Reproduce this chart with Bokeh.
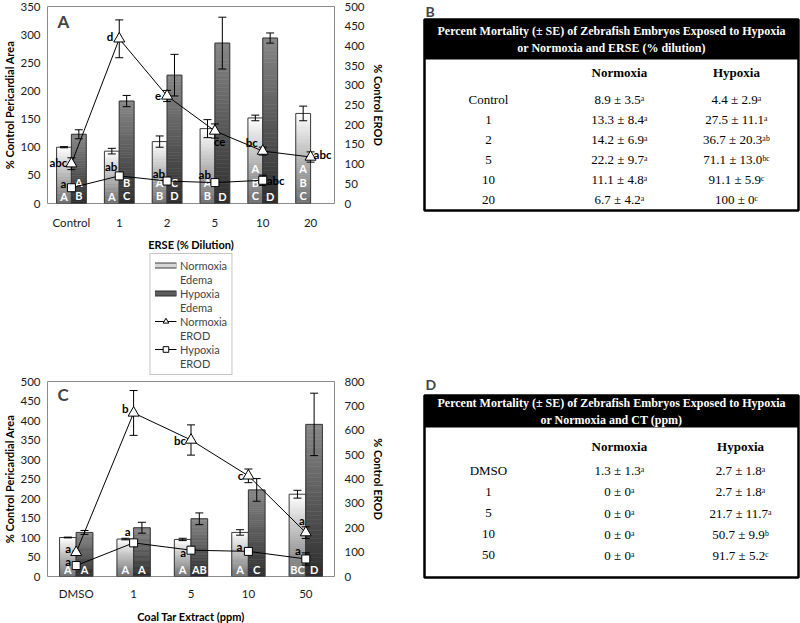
from bokeh.plotting import figure
from bokeh.models import (ColumnDataSource, FactorRange, Range1d, LinearAxis, Legend,
                          LegendItem, BoxAnnotation, Label, Spacer, FixedTicker)
from bokeh.layouts import row, column
from bokeh.transform import dodge
from bokeh.core.properties import value, field
from bokeh.embed import file_html
from bokeh.resources import INLINE

# ---------------- Panel A data (ERSE) ----------------
a_cats = ["Control", "1", "2", "5", "10", "20"]
a_hyp_cats = ["Control", "1", "2", "5", "10"]
a_norm_edema = [100, 93, 110, 133, 152, 160]
a_norm_edema_se = [1, 5, 10, 16, 5, 13]
a_hyp_edema = [123, 182, 228, 285, 294]
a_hyp_edema_se = [8, 10, 37, 46, 9]
a_norm_erod = [101, 418, 273, 184, 133, 118]
a_norm_erod_se = [15, 48, 14, 18, 10, 13]
a_hyp_erod = [40, 70, 57, 53, 59]
a_hyp_erod_se = [3, 4, 3, 3, 13]
a_norm_grp = ["A", "A", "A\nB", "A\nB", "A\nB\nC", "A\nB\nC"]
a_hyp_grp = ["A\nB", "B\nC", "C\nD", "D", "D"]
a_norm_sig = ["abc", "d", "e", "ce", "bc", "abc"]
a_hyp_sig = ["a", "ab", "ab", "ab", "abc"]
a_left_ticks = [0, 50, 100, 150, 200, 250, 300, 350]
a_right_ticks = [0, 50, 100, 150, 200, 250, 300, 350, 400, 450, 500]

# ---------------- Panel C data (Coal tar) ----------------
c_cats = ["DMSO", "1", "5", "10", "50"]
c_norm_edema = [100, 96, 95, 113, 211]
c_norm_edema_se = [1, 2, 3, 7, 10]
c_hyp_edema = [113, 125, 148, 222, 390]
c_hyp_edema_se = [5, 14, 15, 29, 80]
c_norm_erod = [99, 671, 560, 413, 180]
c_norm_erod_se = [5, 92, 62, 28, 24]
c_hyp_erod = [45, 138, 108, 103, 72]
c_hyp_erod_se = [4, 5, 5, 5, 25]
c_norm_grp = ["A", "A", "A", "A", "BC"]
c_hyp_grp = ["A", "A", "AB", "C", "D"]
c_norm_sig = ["a", "b", "bc", "c", "a"]
c_hyp_sig = ["a", "a", "a", "a", "a"]
c_left_ticks = [0, 50, 100, 150, 200, 250, 300, 350, 400, 450, 500]
c_right_ticks = [0, 100, 200, 300, 400, 500, 600, 700, 800]

# ---------------- Legend entries ----------------
legend_labels = ["Normoxia\nEdema", "Hypoxia\nEdema", "Normoxia\nEROD", "Hypoxia\nEROD"]

# ---------------- Table B data ----------------
b_rows = ["Control", "1", "2", "5", "10", "20"]
b_norm_mean = [8.9, 13.3, 14.2, 22.2, 11.1, 6.7]
b_norm_se = [3.5, 8.4, 6.9, 9.7, 4.8, 4.2]
b_norm_sig = ["a", "a", "a", "a", "a", "a"]
b_hyp_mean = [4.4, 27.5, 36.7, 71.1, 91.1, 100]
b_hyp_se = [2.9, 11.1, 20.3, 13.0, 5.9, 0]
b_hyp_sig = ["a", "a", "ab", "bc", "c", "c"]

# ---------------- Table D data ----------------
d_rows = ["DMSO", "1", "5", "10", "50"]
d_norm_mean = [1.3, 0, 0, 0, 0]
d_norm_se = [1.3, 0, 0, 0, 0]
d_norm_sig = ["a", "a", "a", "a", "a"]
d_hyp_mean = [2.7, 2.7, 21.7, 50.7, 91.7]
d_hyp_se = [1.8, 1.8, 11.7, 9.9, 5.2]
d_hyp_sig = ["a", "a", "a", "b", "c"]

# ---------------- styles ----------------
FONT = "Lato"
SERIF = "Liberation Serif"
N_SLICES = 40
NORM_TOP, NORM_BOT = (255, 255, 255), (110, 110, 110)
HYP_TOP, HYP_BOT = (135, 135, 135), (45, 45, 45)
OUTLINE = "#3a3a3a"

# label offsets (align, dx, dy) in screen px
a_norm_sig_style = [("right", -4, -1), ("right", -6, -2), ("right", -6, 0),
                    ("left", -1, 10), ("right", -5, -9), ("left", 3, -3)]
a_hyp_sig_style = [("right", -5, -4), ("right", -2, -9), ("right", -2, -8),
                   ("right", -4, -8), ("left", 4, 0)]
c_norm_sig_style = [("right", -5, -4), ("right", -5, -4), ("right", -5, 0),
                    ("right", -5, 0), ("center", -4, -12)]
c_hyp_sig_style = [("right", -5, -4), ("right", -3, -11), ("right", -5, 2),
                   ("right", -6, -5), ("right", -5, -8)]


def mix(c1, c2, t):
    return "#%02x%02x%02x" % tuple(int(round(a + (b - a) * t)) for a, b in zip(c1, c2))


def add_bars(p, cats, vals, dx, width, top_c, bot_c):
    xs, bots, tops, cols = [], [], [], []
    for c, v in zip(cats, vals):
        for i in range(N_SLICES):
            xs.append(c)
            bots.append(v * i / N_SLICES)
            tops.append(v * (i + 1) / N_SLICES)
            cols.append(mix(bot_c, top_c, (i + 0.5) / N_SLICES))
    src = ColumnDataSource(dict(x=xs, bottom=bots, top=tops, color=cols))
    p.vbar(x=dodge("x", dx, range=p.x_range), bottom="bottom", top="top", width=width,
           fill_color="color", line_color="color", line_width=0.6, source=src)
    osrc = ColumnDataSource(dict(x=cats, top=vals))
    p.vbar(x=dodge("x", dx, range=p.x_range), top="top", width=width, fill_color=None,
           line_color=OUTLINE, line_width=1, source=osrc)


def add_err(p, cats, vals, ses, dx, rng="default"):
    src = ColumnDataSource(dict(x=cats, lo=[v - e for v, e in zip(vals, ses)],
                                hi=[v + e for v, e in zip(vals, ses)]))
    xs = dodge("x", dx, range=p.x_range)
    p.segment(x0=xs, y0="lo", x1=xs, y1="hi", source=src, line_color="black",
              line_width=1, y_range_name=rng)
    for k in ("lo", "hi"):
        p.scatter(x=xs, y=k, source=src, marker="dash", size=8, line_color="black",
                  line_width=1, y_range_name=rng)


def add_letters(p, cats, grp, dx):
    src = ColumnDataSource(dict(x=cats, y=[p.y_range.start] * len(cats), t=grp))
    p.text(x=dodge("x", dx, range=p.x_range), y="y", text="t", source=src,
           text_align="center", text_baseline="bottom", y_offset=-1, text_color="white",
           text_font=value(FONT), text_font_style="bold", text_font_size="11px",
           text_line_height=1.05)


def add_sig(p, cats, vals, sig, style):
    src = ColumnDataSource(dict(x=cats, y=vals, t=sig, al=[s[0] for s in style],
                                dx=[s[1] for s in style], dy=[s[2] for s in style]))
    p.text(x="x", y="y", text="t", source=src, text_align=field("al"), x_offset="dx",
           y_offset="dy", text_baseline="middle", y_range_name="erod", text_color="black",
           text_font=value(FONT), text_font_style="bold", text_font_size="11.5px")


def make_panel(tag, cats, hyp_cats, ne, ne_se, he, he_se, nr, nr_se, hr, hr_se,
               n_grp, h_grp, n_sig, h_sig, n_style, h_style, lt, rt, xlabel,
               frame_h, bar_w, top_border, lab_standoff, title_standoff, tag_y):
    p = figure(x_range=FactorRange(*cats), y_range=Range1d(lt[0], lt[-1]),
               frame_width=287, frame_height=frame_h, output_backend="svg",
               toolbar_location=None, min_border_left=45, min_border_right=78,
               min_border_top=top_border, min_border_bottom=0)
    p.extra_y_ranges = {"erod": Range1d(rt[0], rt[-1])}
    p.add_layout(LinearAxis(y_range_name="erod", axis_label="% Control EROD",
                            ticker=FixedTicker(ticks=rt)), "right")
    p.yaxis[0].ticker = FixedTicker(ticks=lt)
    p.yaxis[0].axis_label = "% Control Pericardial Area"
    p.xaxis.axis_label = xlabel
    p.xgrid.visible = False
    p.ygrid.visible = False
    p.outline_line_color = "#8c8c8c"
    p.background_fill_color = "white"
    for ax in p.axis:
        ax.axis_line_color = None
        ax.major_tick_line_color = None
        ax.minor_tick_line_color = None
        ax.major_tick_out = 0
        ax.major_tick_in = 0
        ax.minor_tick_out = 0
        ax.minor_tick_in = 0
        ax.major_label_text_font = FONT
        ax.major_label_text_font_size = "11.5px"
        ax.major_label_text_color = "#1a1a1a"
        ax.axis_label_text_font = FONT
        ax.axis_label_text_font_size = "11px"
        ax.axis_label_text_font_style = "bold"
        ax.axis_label_text_color = "black"
    p.yaxis[0].major_label_standoff = 7
    p.yaxis[0].axis_label_standoff = 1
    p.yaxis[1].major_label_standoff = 10
    p.yaxis[1].axis_label_standoff = 4
    p.xaxis.major_label_standoff = lab_standoff
    p.xaxis.axis_label_standoff = title_standoff

    half = bar_w / 2
    add_bars(p, cats, ne, -half, bar_w, NORM_TOP, NORM_BOT)
    add_bars(p, hyp_cats, he, half, bar_w, HYP_TOP, HYP_BOT)
    add_err(p, cats, ne, ne_se, -half)
    add_err(p, hyp_cats, he, he_se, half)
    add_letters(p, cats, n_grp, -half)
    add_letters(p, hyp_cats, h_grp, half)

    p.line(x=cats, y=nr, y_range_name="erod", line_color="black", line_width=1)
    p.line(x=hyp_cats, y=hr, y_range_name="erod", line_color="black", line_width=1)
    add_err(p, cats, nr, nr_se, 0, "erod")
    add_err(p, hyp_cats, hr, hr_se, 0, "erod")
    p.scatter(x=cats, y=nr, marker="triangle", size=11, fill_color="white",
              line_color="black", line_width=1, y_range_name="erod")
    p.scatter(x=hyp_cats, y=hr, marker="square", size=8, fill_color="white",
              line_color="black", line_width=1, y_range_name="erod")
    add_sig(p, cats, nr, n_sig, n_style)
    add_sig(p, hyp_cats, hr, h_sig, h_style)

    p.add_layout(Label(x=10, y=frame_h - tag_y, x_units="screen", y_units="screen", text=tag,
                       text_font=FONT, text_font_style="bold", text_font_size="17px",
                       text_baseline="middle"))
    return p


def make_legend_fig(height):
    p = figure(x_range=Range1d(0, 1), y_range=Range1d(0, 1), frame_width=287,
               frame_height=height, output_backend="svg", toolbar_location=None,
               x_axis_location=None, y_axis_location=None, min_border_left=45,
               min_border_right=78, min_border_top=0, min_border_bottom=0)
    p.outline_line_color = None
    p.xgrid.visible = False
    p.ygrid.visible = False
    # legend-only renderers, kept outside the visible range
    hx, hy = [-5, -4], [-5, -5]
    n_out = p.line(x=hx, y=hy, line_color=OUTLINE, line_width=6, line_cap="butt")
    n_in = p.line(x=hx, y=hy, line_color="#d6d6d6", line_width=4, line_cap="butt")
    h_out = p.line(x=hx, y=hy, line_color="#2e2e2e", line_width=6, line_cap="butt")
    h_in = p.line(x=hx, y=hy, line_color="#5c5c5c", line_width=4, line_cap="butt")
    ln = p.line(x=hx, y=hy, line_color="black", line_width=1)
    mt = p.scatter(x=[-5], y=[-5], marker="triangle", size=8, fill_color="white",
                   line_color="black")
    ms = p.scatter(x=[-5], y=[-5], marker="square", size=6, fill_color="white",
                   line_color="black")
    blank = p.scatter(x=[-5], y=[-5], marker="square", size=1, fill_alpha=0, line_alpha=0)
    glyph_sets = [[n_out, n_in], [h_out, h_in], [ln, mt], [ln, ms]]
    items = []
    for lab, rs in zip(legend_labels, glyph_sets):
        first, *rest = lab.split("\n")
        items.append(LegendItem(label=first, renderers=rs))
        for r in rest:
            items.append(LegendItem(label=r, renderers=[blank]))
    leg = Legend(items=items, location="center", orientation="vertical", label_text_font=FONT,
                 label_text_font_size="11px", label_height=12, glyph_width=22,
                 glyph_height=14, spacing=0, padding=4, margin=0, label_standoff=4,
                 border_line_color="#8c8c8c", border_line_width=1,
                 background_fill_color="white")
    p.add_layout(leg)
    return p


SUP = {"a": "\u1d43", "b": "\u1d47", "c": "\u1d9c"}


def fmt(m, s, sig):
    f = lambda v: str(v) if isinstance(v, int) else f"{v:.1f}"
    return f"{f(m)} \u00b1 {f(s)}" + "".join(SUP[ch] for ch in sig)


def make_table(tag, title, rows, nm, ns, nsig, hm, hs, hsig, y_lo, y_hi, band_lo,
               hdr_y, frame_h, col_x, top_border, title_standoff):
    p = figure(x_range=Range1d(0, 1), y_range=Range1d(y_lo, y_hi), frame_width=374,
               frame_height=frame_h, output_backend="svg", toolbar_location=None,
               x_axis_location=None, y_axis_location=None, min_border_left=2,
               min_border_right=2, min_border_bottom=2, min_border_top=top_border,
               title=tag)
    p.title.text_font = FONT
    p.title.text_font_style = "bold"
    p.title.text_font_size = "14px"
    p.title.align = "left"
    p.title.standoff = title_standoff
    p.title.offset = 1
    p.xgrid.visible = False
    p.ygrid.visible = False
    p.outline_line_color = "black"
    p.outline_line_width = 2.5
    p.add_layout(BoxAnnotation(bottom=band_lo, top=y_hi, fill_color="black", fill_alpha=1,
                               line_color=None, level="underlay"))
    p.text(x=[0.5], y=[(band_lo + y_hi) / 2], text=[title], text_align="center",
           text_baseline="middle", text_color="white", text_font=value(SERIF),
           text_font_style="bold", text_font_size="12px", text_line_height=1.25)
    p.text(x=col_x[1:], y=[hdr_y, hdr_y], text=["Normoxia", "Hypoxia"], text_align="center",
           text_baseline="middle", text_color="black", text_font=value(SERIF),
           text_font_style="bold", text_font_size="13px")
    ys = [-i for i in range(len(rows))]
    src = ColumnDataSource(dict(
        y=ys, lab=rows,
        n=[fmt(a, b, c) for a, b, c in zip(nm, ns, nsig)],
        h=[fmt(a, b, c) for a, b, c in zip(hm, hs, hsig)]))
    for xx, col in zip(col_x, ("lab", "n", "h")):
        p.text(x=xx, y="y", text=col, source=src, text_align="center",
               text_baseline="middle", text_color="black", text_font=value(SERIF),
               text_font_size="13px")
    return p


pa = make_panel("A", a_cats, a_hyp_cats, a_norm_edema, a_norm_edema_se, a_hyp_edema,
                a_hyp_edema_se, a_norm_erod, a_norm_erod_se, a_hyp_erod, a_hyp_erod_se,
                a_norm_grp, a_hyp_grp, a_norm_sig, a_hyp_sig, a_norm_sig_style,
                a_hyp_sig_style, a_left_ticks, a_right_ticks, "ERSE (% Dilution)",
                197, 0.31, 6, 12, 6, 15)
pl = make_legend_fig(122)
pc = make_panel("C", c_cats, c_cats, c_norm_edema, c_norm_edema_se, c_hyp_edema,
                c_hyp_edema_se, c_norm_erod, c_norm_erod_se, c_hyp_erod, c_hyp_erod_se,
                c_norm_grp, c_hyp_grp, c_norm_sig, c_hyp_sig, c_norm_sig_style,
                c_hyp_sig_style, c_left_ticks, c_right_ticks, "Coal Tar Extract (ppm)",
                195, 0.29, 6, 10, 7, 13)

pb = make_table("B", "Percent Mortality (\u00b1 SE) of Zebrafish Embryos Exposed to Hypoxia\n"
                "or Normoxia and ERSE (% dilution)", b_rows, b_norm_mean, b_norm_se,
                b_norm_sig, b_hyp_mean, b_hyp_se, b_hyp_sig, -5.55, 4.0, 2.0, 1.35, 191,
                [0.171, 0.521, 0.834], 17, 0)
pd_ = make_table("D", "Percent Mortality (\u00b1 SE) of Zebrafish Embryos Exposed to Hypoxia\n"
                 "or Normoxia and CT (ppm)", d_rows, d_norm_mean, d_norm_se, d_norm_sig,
                 d_hyp_mean, d_hyp_se, d_hyp_sig, -5.05, 3.57, 2.05, 1.14, 182,
                 [0.171, 0.521, 0.845], 22, 6)

left = column(pa, pl, pc)
right = column(pb, Spacer(width=378, height=158), pd_)
root = row(left, Spacer(width=10, height=10), right)

open("out.html", "w").write(file_html(root, INLINE))
